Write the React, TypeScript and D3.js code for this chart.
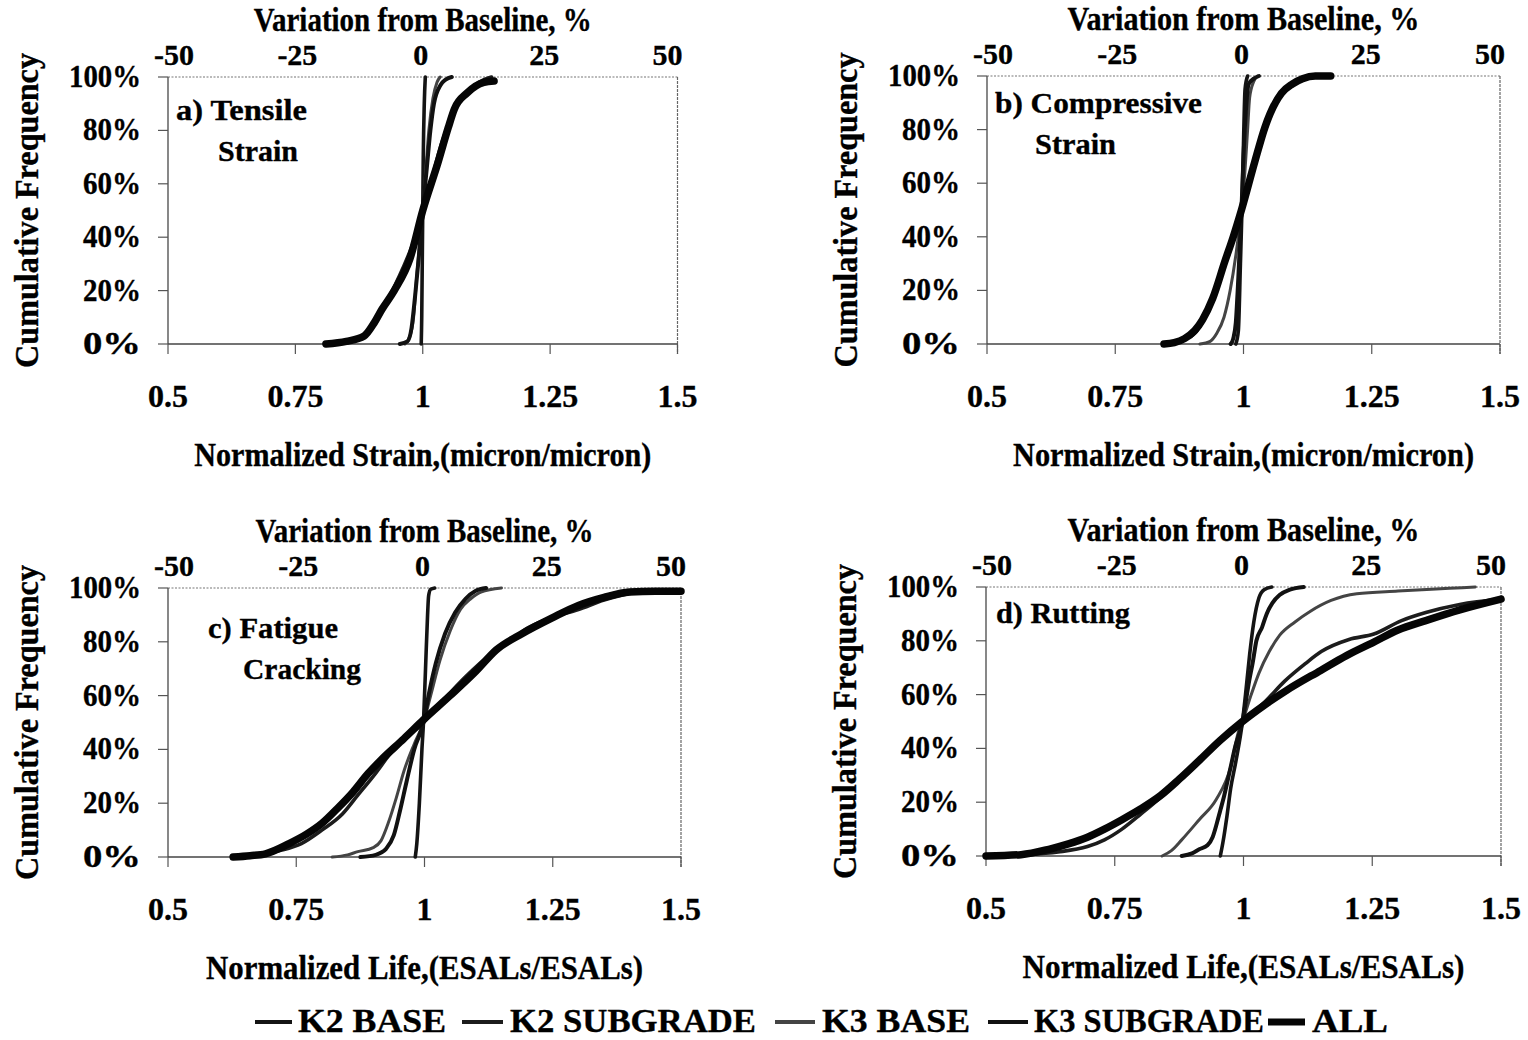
import React from 'react';
import * as d3 from 'd3';

// ---- data: [normalized value, cumulative %] ----
const SERIES_NAMES = ['K2 BASE', 'K2 SUBGRADE', 'K3 BASE', 'K3 SUBGRADE', 'ALL'];

const X_TICKS = [0.5, 0.75, 1, 1.25, 1.5];
const X_TICK_LABELS = ['0.5', '0.75', '1', '1.25', '1.5'];
const TOP_TICKS = [-50, -25, 0, 25, 50];
const Y_TICKS = [0, 20, 40, 60, 80, 100];
const Y_TICK_LABELS = ['0%', '20%', '40%', '60%', '80%', '100%'];

// a) tensile strain
const A_K2_BASE = [[0.997, 0], [0.998, 10], [0.999, 30], [1.0, 50], [1.001, 70], [1.003, 90], [1.005, 100]];
const A_K2_SUB = [[0.83, 0], [0.87, 1.5], [0.895, 5], [0.912, 10], [0.935, 18], [0.96, 28], [0.985, 40], [1.0, 50], [1.018, 62], [1.035, 74], [1.05, 82], [1.065, 89], [1.085, 94], [1.11, 98], [1.135, 100]];
const A_K3_BASE = [[0.965, 0], [0.975, 3], [0.982, 10], [0.988, 25], [0.995, 40], [1.0, 50], [1.006, 65], [1.012, 80], [1.02, 92], [1.028, 98], [1.034, 100]];
const A_K3_SUB = [[0.955, 0], [0.97, 1], [0.978, 6], [0.985, 18], [0.992, 32], [1.0, 50], [1.008, 66], [1.015, 80], [1.022, 90], [1.035, 97], [1.045, 99], [1.057, 100]];
const A_ALL = [[0.81, 0], [0.85, 1], [0.885, 3], [0.905, 8], [0.92, 13], [0.944, 20], [0.975, 32], [1.0, 50], [1.03, 68], [1.05, 81], [1.062, 88], [1.087, 94], [1.12, 98], [1.14, 98.5]];

// b) compressive strain
const B_K2_BASE = [[0.985, 0], [0.99, 5], [0.994, 30], [0.997, 50], [1.0, 75], [1.003, 95], [1.008, 100]];
const B_K2_SUB = [[0.85, 0], [0.88, 1.5], [0.905, 4], [0.925, 10], [0.945, 19], [0.968, 32], [0.998, 50], [1.02, 66], [1.04, 79], [1.055, 87], [1.075, 94], [1.1, 98], [1.13, 99.5], [1.165, 100]];
const B_K3_BASE = [[0.915, 0], [0.935, 1], [0.948, 4], [0.962, 10], [0.974, 20], [0.985, 33], [0.996, 50], [1.003, 65], [1.008, 80], [1.012, 92], [1.02, 98], [1.027, 100]];
const B_K3_SUB = [[0.975, 0], [0.98, 2], [0.985, 8], [0.99, 25], [0.996, 50], [1.0, 70], [1.005, 88], [1.01, 97], [1.02, 99], [1.03, 100]];
const B_ALL = [[0.845, 0], [0.865, 0.5], [0.885, 2], [0.905, 5], [0.92, 9], [0.94, 17], [0.964, 31], [0.98, 40], [0.996, 50], [1.022, 68], [1.042, 81], [1.052, 86], [1.074, 93.6], [1.095, 97], [1.115, 99], [1.14, 100], [1.17, 100]];

// c) fatigue cracking
const C_K2_BASE = [[0.982, 0], [0.985, 5], [0.99, 20], [0.995, 40], [0.998, 50], [1.002, 70], [1.006, 90], [1.008, 97], [1.012, 99.5], [1.02, 100]];
const C_K2_SUB = [[0.635, 0], [0.68, 1], [0.72, 2.5], [0.76, 5], [0.8, 10], [0.84, 16], [0.87, 23], [0.9, 30], [0.94, 40], [0.998, 50], [1.04, 59], [1.08, 67], [1.13, 75.5], [1.165, 80], [1.2, 85], [1.24, 88.5], [1.3, 92], [1.35, 95.5], [1.4, 98], [1.45, 98.8], [1.5, 99]];
const C_K3_BASE = [[0.82, 0], [0.85, 0.8], [0.87, 2], [0.9, 3.5], [0.915, 6], [0.93, 13], [0.945, 22], [0.96, 32], [0.98, 42], [0.998, 50], [1.012, 60], [1.03, 73], [1.05, 84], [1.07, 92], [1.09, 96], [1.11, 98.5], [1.15, 100]];
const C_K3_SUB = [[0.875, 0], [0.905, 0.8], [0.925, 3], [0.94, 8], [0.952, 17], [0.965, 28], [0.98, 40], [0.998, 50], [1.01, 62], [1.022, 72], [1.04, 83], [1.06, 91], [1.08, 96], [1.1, 99], [1.12, 100]];
const C_ALL = [[0.627, 0], [0.66, 0.5], [0.69, 1.2], [0.736, 5], [0.77, 8.5], [0.8, 12.5], [0.83, 18], [0.86, 24], [0.89, 31], [0.915, 36], [0.96, 44], [0.998, 51], [1.05, 60], [1.1, 69], [1.14, 77], [1.19, 83], [1.25, 89], [1.3, 93.5], [1.35, 96.5], [1.4, 98.5], [1.45, 98.8], [1.5, 98.8]];

// d) rutting
const D_K2_BASE = [[0.955, 0], [0.96, 5], [0.968, 15], [0.975, 25], [0.985, 35], [0.998, 50], [1.005, 62], [1.012, 75], [1.02, 87], [1.03, 96], [1.04, 99], [1.055, 100]];
const D_K2_SUB = [[0.5, 0], [0.58, 0.5], [0.64, 1.5], [0.697, 3.5], [0.73, 6], [0.764, 10], [0.8, 15.5], [0.84, 22], [0.875, 28.5], [0.914, 35.5], [0.955, 43], [0.998, 50], [1.04, 57], [1.08, 65], [1.12, 71.5], [1.151, 76], [1.205, 80.5], [1.253, 82.5], [1.307, 87.5], [1.354, 90.5], [1.42, 93.5], [1.5, 95.5]];
const D_K3_BASE = [[0.842, 0], [0.86, 2], [0.88, 6], [0.914, 13.5], [0.947, 21], [0.975, 33], [0.99, 46], [0.998, 50], [1.015, 60], [1.03, 68], [1.05, 76], [1.07, 82], [1.1, 87], [1.13, 91], [1.17, 95], [1.22, 97.5], [1.3, 98.5], [1.4, 99.5], [1.45, 100]];
const D_K3_SUB = [[0.88, 0], [0.9, 1], [0.914, 2.5], [0.93, 4], [0.94, 7], [0.948, 12], [0.955, 17], [0.962, 22], [0.968, 27], [0.975, 33], [0.983, 40], [0.998, 50], [1.005, 58], [1.01, 64], [1.018, 72], [1.025, 80], [1.036, 85], [1.045, 90], [1.056, 94], [1.07, 97], [1.09, 99], [1.117, 100]];
const D_ALL = [[0.5, 0], [0.568, 0.5], [0.622, 2.5], [0.66, 4.5], [0.697, 7], [0.73, 10], [0.764, 13.5], [0.8, 17.5], [0.839, 22.5], [0.875, 28.5], [0.914, 35.5], [0.955, 43], [0.998, 50], [1.04, 56], [1.083, 61.5], [1.15, 69], [1.2, 74.5], [1.253, 79.5], [1.3, 84], [1.354, 87.5], [1.42, 91.5], [1.5, 95.5]];

const PANELS = [
  { id: 'a', label: ['a) Tensile', 'Strain'], xTitle: 'Normalized Strain,(micron/micron)', series: [A_K2_BASE, A_K2_SUB, A_K3_BASE, A_K3_SUB, A_ALL] },
  { id: 'b', label: ['b) Compressive', 'Strain'], xTitle: 'Normalized Strain,(micron/micron)', series: [B_K2_BASE, B_K2_SUB, B_K3_BASE, B_K3_SUB, B_ALL] },
  { id: 'c', label: ['c) Fatigue', 'Cracking'], xTitle: 'Normalized Life,(ESALs/ESALs)', series: [C_K2_BASE, C_K2_SUB, C_K3_BASE, C_K3_SUB, C_ALL] },
  { id: 'd', label: ['d) Rutting'], xTitle: 'Normalized Life,(ESALs/ESALs)', series: [D_K2_BASE, D_K2_SUB, D_K3_BASE, D_K3_SUB, D_ALL] },
];

// ---- layout ----
const W = 1528;
const H = 1040;
const FONT = '"Liberation Serif", "Times New Roman", serif';

const FRAMES = {
  a: { x0: 168, x1: 677.5, yt: 77, yb: 344, titleW: 338, xTitleW: 457, labels: [[176, 120, 131], [218, 161, 80]] },
  b: { x0: 987, x1: 1500, yt: 76, yb: 344, titleW: 352, xTitleW: 461, labels: [[995, 113, 207], [1035, 154, 81]] },
  c: { x0: 168, x1: 681, yt: 588, yb: 857, titleW: 338, xTitleW: 437, labels: [[208, 638, 130], [243, 679, 118]] },
  d: { x0: 986, x1: 1501, yt: 587, yb: 856, titleW: 352, xTitleW: 442, labels: [[996, 623, 134]] },
};

const STYLES = [
  { w: 3.6, color: '#141414' },
  { w: 3.6, color: '#1c1c1c' },
  { w: 3, color: '#444' },
  { w: 4, color: '#111' },
  { w: 7.5, color: '#050505' },
];

const LEGEND = [
  { line: [255, 292], text: [298, 148] },
  { line: [462, 503], text: [510, 246] },
  { line: [775, 815], text: [822, 148] },
  { line: [988, 1028], text: [1034, 230] },
  { line: [1268, 1305], text: [1312, 76] },
];

function Panel({ panel }) {
  const f = FRAMES[panel.id];
  const x = d3.scaleLinear().domain([0.5, 1.5]).range([f.x0, f.x1]);
  const xTop = d3.scaleLinear().domain([-50, 50]).range([f.x0 + 6, f.x1 - 10]);
  const y = d3.scaleLinear().domain([0, 100]).range([f.yb, f.yt]);
  const line = d3
    .line()
    .x((d) => x(d[0]))
    .y((d) => y(d[1]))
    .curve(d3.curveMonotoneX);
  const midX = (f.x0 + f.x1) / 2;
  const midY = (f.yt + f.yb) / 2;

  return (
    <g fontFamily={FONT} fontWeight="bold" fill="#000" stroke="#000" strokeWidth={0.35}>
      {/* titles */}
      <text x={midX} y={f.yt - 46} fontSize={34} textAnchor="middle" textLength={f.titleW} lengthAdjust="spacingAndGlyphs">
        Variation from Baseline, %
      </text>
      {TOP_TICKS.map((t) => (
        <text key={t} x={xTop(t)} y={f.yt - 12} fontSize={30} textAnchor="middle">
          {t}
        </text>
      ))}
      <text x={midX} y={f.yb + 122} fontSize={33} textAnchor="middle" textLength={f.xTitleW} lengthAdjust="spacingAndGlyphs">
        {panel.xTitle}
      </text>
      <text
        transform={`translate(${f.x0 - 130},${midY}) rotate(-90)`}
        fontSize={33}
        textAnchor="middle"
        textLength={315}
        lengthAdjust="spacingAndGlyphs"
      >
        Cumulative Frequency
      </text>

      {/* frame */}
      <g strokeWidth={1.2}>
        <line x1={f.x0} x2={f.x1} y1={f.yt} y2={f.yt} stroke="#777" strokeDasharray="2,1.5" />
        <line x1={f.x1} x2={f.x1} y1={f.yt} y2={f.yb + 10} stroke="#666" strokeDasharray="3,1" />
        <line x1={f.x0} x2={f.x0} y1={f.yt} y2={f.yb} stroke="#555" strokeWidth={1.4} />
        <line x1={f.x0} x2={f.x1} y1={f.yb} y2={f.yb} stroke="#444" strokeWidth={1.4} />
      </g>

      {Y_TICKS.map((t, i) => (
        <g key={t}>
          <line x1={f.x0 - 10} x2={f.x0} y1={y(t)} y2={y(t)} stroke="#555" strokeWidth={1.2} />
          <text x={f.x0 - 27} y={y(t) + 10} fontSize={31} textAnchor="end" textLength={i === 5 ? 72 : 58} lengthAdjust="spacingAndGlyphs">
            {Y_TICK_LABELS[i]}
          </text>
        </g>
      ))}
      {X_TICKS.map((t, i) => (
        <g key={t}>
          <line x1={x(t)} x2={x(t)} y1={f.yb} y2={f.yb + 10} stroke="#555" strokeWidth={1.2} />
          <text x={x(t)} y={f.yb + 63} fontSize={32} textAnchor="middle">
            {X_TICK_LABELS[i]}
          </text>
        </g>
      ))}

      {/* panel label */}
      {panel.label.map((s, i) => (
        <text key={s} x={f.labels[i][0]} y={f.labels[i][1]} fontSize={30} textLength={f.labels[i][2]} lengthAdjust="spacingAndGlyphs">
          {s}
        </text>
      ))}

      {/* curves */}
      {panel.series.map((pts, i) => (
        <path
          key={SERIES_NAMES[i]}
          d={line(pts)}
          fill="none"
          stroke={STYLES[i].color}
          strokeWidth={STYLES[i].w}
          strokeLinecap="round"
          strokeLinejoin="round"
        />
      ))}
    </g>
  );
}

export default function App() {
  return (
    <svg width={W} height={H} style={{ position: 'absolute', left: 0, top: 0, background: '#fff' }}>
      <rect width={W} height={H} fill="#fff" />
      {PANELS.map((p) => (
        <Panel key={p.id} panel={p} />
      ))}
      <g fontFamily={FONT} fontWeight="bold">
        {SERIES_NAMES.map((name, i) => (
          <g key={name}>
            <line
              x1={LEGEND[i].line[0]}
              x2={LEGEND[i].line[1]}
              y1={1022}
              y2={1022}
              stroke={STYLES[i].color}
              strokeWidth={i === 4 ? 7 : 4}
            />
            <text
              x={LEGEND[i].text[0]}
              y={1032}
              fontSize={33}
              stroke="#000"
              strokeWidth={0.35}
              textLength={LEGEND[i].text[1]}
              lengthAdjust="spacingAndGlyphs"
            >
              {name}
            </text>
          </g>
        ))}
      </g>
    </svg>
  );
}
